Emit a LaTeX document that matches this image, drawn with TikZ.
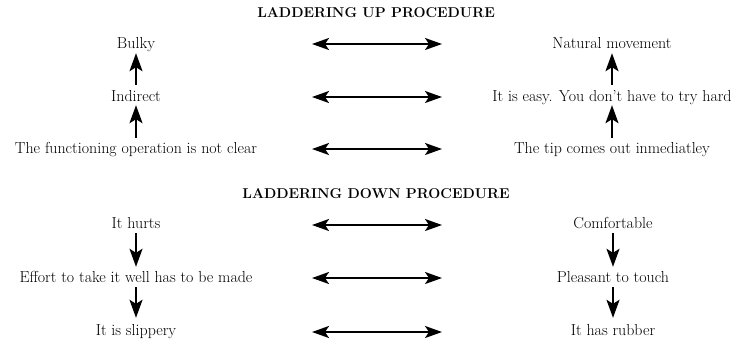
\documentclass[tikz,border=0pt]{standalone}
\usetikzlibrary{arrows.meta}
\begin{document}
\begin{tikzpicture}[x=1bp,y=-1bp,
  lbl/.style={font=\fontsize{16}{19}\selectfont, inner sep=0pt, anchor=base,
              text height=11bp, text depth=3bp},
  ttl/.style={font=\fontsize{14.3}{16}\selectfont\bfseries, inner sep=0pt, anchor=base},
  link/.style={line width=2bp, {Stealth[length=17bp,width=12bp,inset=4bp]}-{Stealth[length=17bp,width=12bp,inset=4bp]}},
  vline/.style={line width=2bp, -{Stealth[length=18bp,width=13bp,inset=4bp]}}]
\useasboundingbox (0,0) rectangle (736,340);

% ---- laddering up ----
\node[ttl] (tup) at (376,17) {LADDERING UP PROCEDURE};
\node[lbl] (u1) at (136,48) {Bulky};
\node[lbl] (u2) at (136,101) {Indirect};
\node[lbl] (u3) at (136,153) {The functioning operation is not clear};
\node[lbl] (r1) at (612,48) {Natural movement};
\node[lbl] (r2) at (612,101) {It is easy. You don’t have to try hard};
\node[lbl] (r3) at (612,153) {The tip comes out inmediatley};
\draw[vline, shorten <=5bp, shorten >=2bp] (u2.north) -- (u1.south);
\draw[vline, shorten <=4bp, shorten >=1bp] (u3.north) -- (u2.south);
\draw[vline, shorten <=5bp, shorten >=2bp] (r2.north) -- (r1.south);
\draw[vline, shorten <=4bp, shorten >=1bp] (r3.north) -- (r2.south);
\foreach \i/\y in {1/44,2/97,3/149}{
  \coordinate (ul\i) at (312,\y);
  \coordinate (ur\i) at (442,\y);
  \draw[link] (ul\i) -- (ur\i);
}

% ---- laddering down ----
\node[ttl] (tdown) at (376,198) {LADDERING DOWN PROCEDURE};
\node[lbl] (d1) at (136,228) {It hurts};
\node[lbl] (d2) at (136,282) {Effort to take it well has to be made};
\node[lbl] (d3) at (136,335) {It is slippery};
\node[lbl] (s1) at (613,228) {Comfortable};
\node[lbl] (s2) at (613,282) {Pleasant to touch};
\node[lbl] (s3) at (613,335) {It has rubber};
\draw[vline, shorten <=2bp, shorten >=4bp] (d1.south) -- (d2.north);
\draw[vline, shorten <=2bp, shorten >=6bp] (d2.south) -- (d3.north);
\draw[vline, shorten <=2bp, shorten >=4bp] (s1.south) -- (s2.north);
\draw[vline, shorten <=2bp, shorten >=6bp] (s2.south) -- (s3.north);
\foreach \i/\y in {1/225,2/278,3/332}{
  \coordinate (dl\i) at (312,\y);
  \coordinate (dr\i) at (442,\y);
  \draw[link] (dl\i) -- (dr\i);
}
\end{tikzpicture}
\end{document}
